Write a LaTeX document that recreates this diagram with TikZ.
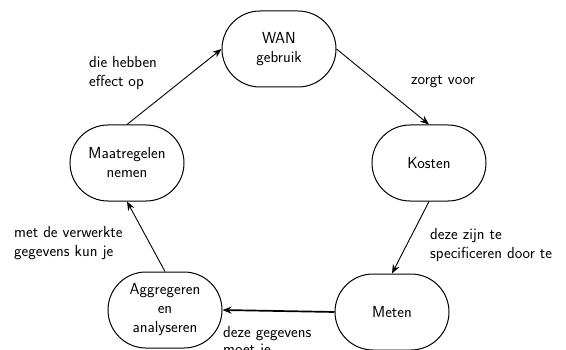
\documentclass[tikz,border=0pt]{standalone}
\usetikzlibrary{shapes.misc,arrows.meta}
\begin{document}
\begin{tikzpicture}[x=1pt,y=1pt,
  font=\sffamily\fontsize{16}{19}\selectfont,
  state/.style={draw,line width=1pt,rounded rectangle,rounded rectangle arc length=180,
    minimum width=114pt,minimum height=76pt,inner sep=0pt,align=center},
  flow/.style={line width=0.9pt,-{Stealth[length=9pt,width=7pt]}},
  lbl/.style={anchor=west,inner sep=0pt,align=left}]
\useasboundingbox (0,0) rectangle (566,349);

% the five states of the cycle
\node[state] (wan)  at (279,300) {WAN\\gebruik};
\node[state] (kost) at (429,186) {Kosten};
\node[state] (maat) at (127,186) {Maatregelen\\nemen};
\node[state] (aggr) at (165,39)  {Aggregeren\\en\hspace{26pt}\\analyseren};
\node[state] (met)  at (392,37)  {Meten};

% transitions
\draw[flow] (maat.north) -- (wan.west);
\draw[flow] (wan.east) -- (kost.north);
\draw[flow] (kost.south) -- (met.north);
\draw[flow,line width=1.7pt] (met.west) -- (aggr.east);
\draw[flow] (aggr.north) -- (maat.south);

% transition labels
\node[lbl] (l1) at (89,275.5) {die hebben\\effect op};
\node[lbl] (l2) at (411,267)  {zorgt voor};
\node[lbl] (l3) at (430,103.5) {deze zijn te\\specificeren door te};
\node[lbl] (l4) at (14,106)   {met de verwerkte\\gegevens kun je};
\node[lbl,anchor=base west] (l5) at (223,-5) {deze gegevens\\[-2pt]moet je};
\end{tikzpicture}
\end{document}
